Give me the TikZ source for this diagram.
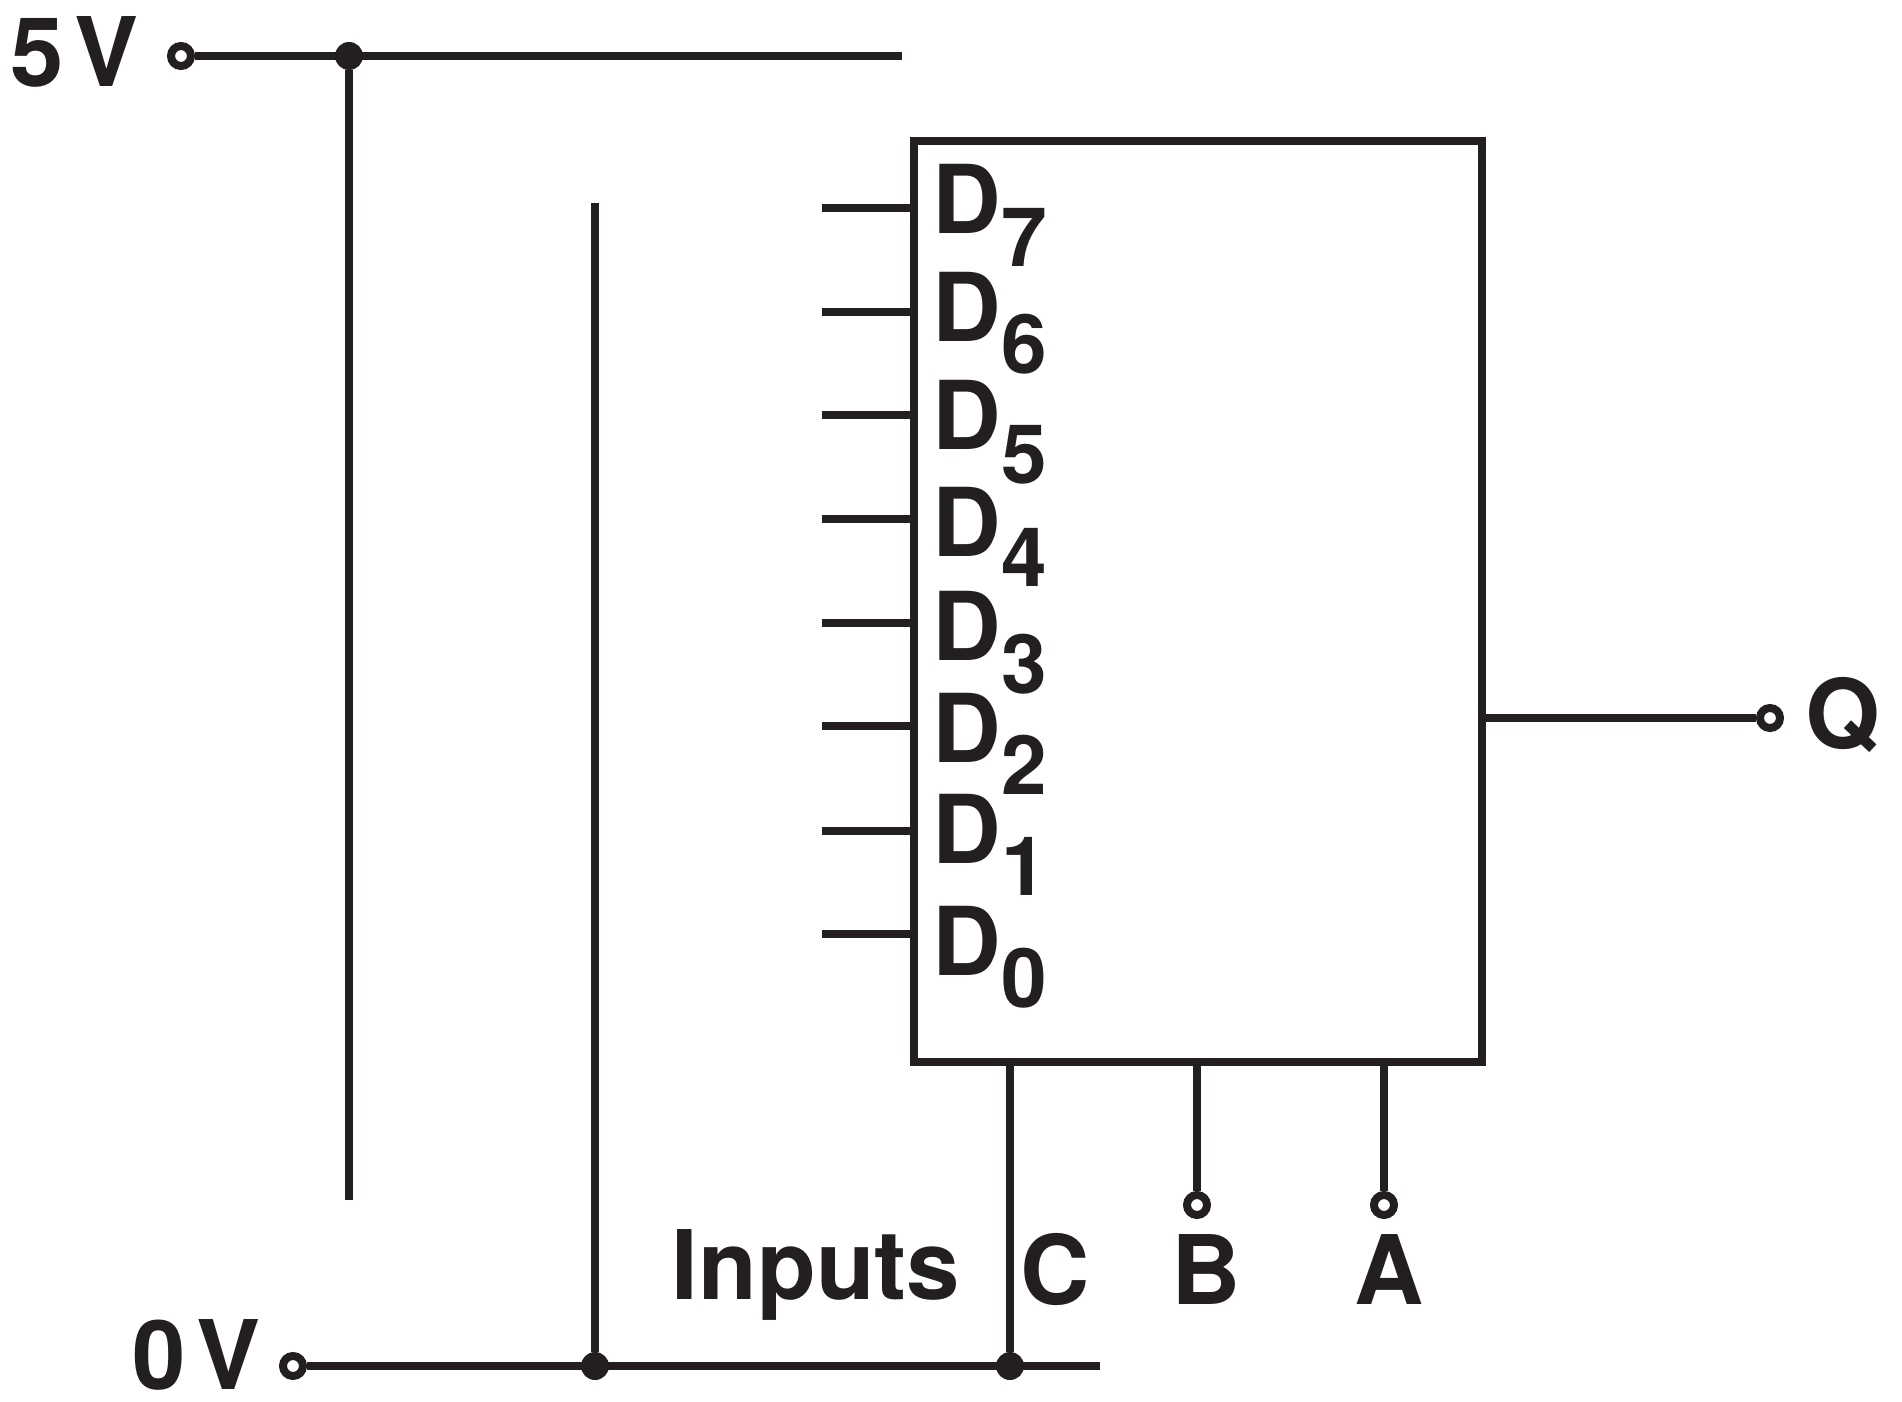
\documentclass[tikz,border=0pt]{standalone}
\usepackage{fontspec}
\setmainfont{TeX Gyre Heros}
\definecolor{ink}{HTML}{231F20}
\tikzset{
  x=0.5pt,y=-0.5pt,
  wire/.style={draw=ink,line width=4.1pt,line cap=butt},
  term/.style={circle,draw=ink,fill=white,line width=4pt,minimum size=10pt,inner sep=0pt},
  joint/.style={circle,fill=ink,minimum size=14pt,inner sep=0pt},
  big/.style={font=\fontsize{48pt}{48pt}\selectfont\bfseries,text=ink,inner sep=0pt,anchor=base},
  dn/.style={font=\fontsize{47.5pt}{48pt}\selectfont\bfseries,text=ink,inner sep=0pt,anchor=base west},
  sb/.style={font=\fontsize{41pt}{42pt}\selectfont\bfseries,text=ink,inner sep=0pt,anchor=base west},
  chipbox/.style={draw=ink,line width=4.1pt,fill=none,rectangle,inner sep=0pt,minimum width=284pt,minimum height=460.5pt},
}
\begin{document}
\begin{tikzpicture}
\useasboundingbox (0,0) rectangle (1902,1402);
\node[chipbox] (chip) at (1198,601.5) {};
\node[term] (t5) at (181,56) {};
\node[joint] (j5) at (349,56) {};
\coordinate (rail5) at (902,56);
\coordinate (v5end) at (349,1200);
\node[term] (t0) at (293,1366) {};
\node[joint] (j0a) at (595,1366) {};
\node[joint] (j0c) at (1010,1366) {};
\coordinate (rail0) at (1100,1366);
\coordinate (v0top) at (595,203);
\coordinate (cTop) at (1010,1062);
\coordinate (bTop) at (1197,1062);
\coordinate (aTop) at (1384,1062);
\coordinate (qStart) at (1482,718);
\node[term] (tb) at (1197,1205) {};
\node[term] (ta) at (1384,1205) {};
\node[term] (tq) at (1770,718) {};
\draw[wire] (t5) -- (rail5);
\draw[wire] (j5) -- (v5end);
\draw[wire] (t0) -- (rail0);
\draw[wire] (j0a) -- (v0top);
\draw[wire] (cTop) -- (j0c);
\draw[wire] (bTop) -- (tb);
\draw[wire] (aTop) -- (ta);
\draw[wire] (qStart) -- (tq);
\foreach \i/\y in {7/208,6/312,5/415,4/519,3/623,2/726,1/831,0/934}{
  \coordinate (s\i) at (822,\y);
  \coordinate (e\i) at (914,\y);
  \draw[wire] (s\i) -- (e\i);
}
\foreach \i/\y/\sy in {7/234/266,6/341/373,5/449/483,4/556/586,3/660/693,2/762/794,1/863/895,0/975/1007}{
  \node[dn] (d\i) at (932,\y) {D};
  \node[sb] (n\i) at (1001,\sy) {\i};
}
\node[big] (five) at (75,87) {5\hspace{-8pt} V};
\node[big] (zero) at (197,1389) {0\hspace{-8pt} V};
\node[big] (q) at (1843,748) {Q};
\node[big] (inp) at (816,1299) {Inputs};
\node[big] (c) at (1055,1304) {C};
\node[big] (b) at (1206,1304) {B};
\node[big] (a) at (1389,1304) {A};
\end{tikzpicture}
\end{document}
